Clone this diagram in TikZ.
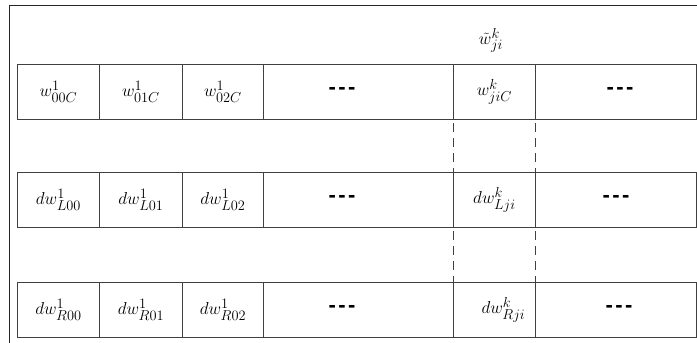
\documentclass[tikz,border=0pt]{standalone}
\usepackage{fontspec}
\newfontfamily\dashfont{Liberation Sans}
\DeclareMathSizes{17.28}{17.28}{14.4}{12}
\begin{document}
\begin{tikzpicture}[x=1pt,y=-1pt,
  lbl/.style={font=\fontsize{17.28}{21}\selectfont},
  cell/.style={draw=black!75, line width=0.9pt, anchor=north west, inner sep=0pt,
    minimum height=54.5pt, lbl},
  gapline/.style={draw=black!75, line width=0.9pt, dash pattern=on 9pt off 6pt, dash phase=-4pt},
  frameline/.style={draw=black!85, line width=0.9pt},
  dots/.style={font=\dashfont\bfseries\fontsize{22}{22}\selectfont}]
\useasboundingbox (0,0) rectangle (697,343);
\coordinate (fa) at (9,343);
\coordinate (fb) at (9,5);
\coordinate (fc) at (697,5);
\draw[frameline] (fa) -- (fb) -- (fc);
% row 1
\node[cell, minimum width=82pt]  (r1c1) at (17,64)  {$w^1_{00C}$};
\node[cell, minimum width=83pt]  (r1c2) at (99,64)  {$w^1_{01C}$};
\node[cell, minimum width=81pt]  (r1c3) at (182,64) {$w^1_{02C}$};
\node[cell, minimum width=190pt] (r1c4) at (263,64) {};
\node[cell, minimum width=82pt]  (r1c5) at (453,64) {$w^k_{jiC}$};
\node[cell, minimum width=161pt] (r1c6) at (535,64) {};
% row 2
\node[cell, minimum width=82pt]  (r2c1) at (17,172)  {$dw^1_{L00}$};
\node[cell, minimum width=83pt]  (r2c2) at (99,172)  {$dw^1_{L01}$};
\node[cell, minimum width=81pt]  (r2c3) at (182,172) {$dw^1_{L02}$};
\node[cell, minimum width=190pt] (r2c4) at (263,172) {};
\node[cell, minimum width=82pt]  (r2c5) at (453,172) {$dw^k_{Lji}$};
\node[cell, minimum width=161pt] (r2c6) at (535,172) {};
% row 3
\node[cell, minimum width=82pt]  (r3c1) at (17,282)  {$dw^1_{R00}$};
\node[cell, minimum width=83pt]  (r3c2) at (99,282)  {$dw^1_{R01}$};
\node[cell, minimum width=81pt]  (r3c3) at (182,282) {$dw^1_{R02}$};
\node[cell, minimum width=190pt] (r3c4) at (263,282) {};
\node[cell, minimum width=82pt]  (r3c5) at (453,282) {\hspace*{18pt}$dw^k_{Rji}$};
\node[cell, minimum width=161pt] (r3c6) at (535,282) {};
% dashes
\node[dots] (d14) at (342,91)  {-\kern2.5pt-\kern2.5pt-};
\node[dots] (d16) at (620,91)  {-\kern2.5pt-\kern2.5pt-};
\node[dots] (d24) at (342,199) {-\kern2.5pt-\kern2.5pt-};
\node[dots] (d26) at (616,199) {-\kern2.5pt-\kern2.5pt-};
\node[dots] (d34) at (342,309) {-\kern2.5pt-\kern2.5pt-};
\node[dots] (d36) at (619,309) {-\kern2.5pt-\kern2.5pt-};
% label above
\node[lbl] (wt) at (491,40) {$\tilde w^k_{ji}$};
% dashed connectors
\draw[gapline] (r1c5.south west) -- (r2c5.north west);
\draw[gapline] (r1c5.south east) -- (r2c5.north east);
\draw[gapline] (r2c5.south west) -- (r3c5.north west);
\draw[gapline] (r2c5.south east) -- (r3c5.north east);
\end{tikzpicture}
\end{document}
